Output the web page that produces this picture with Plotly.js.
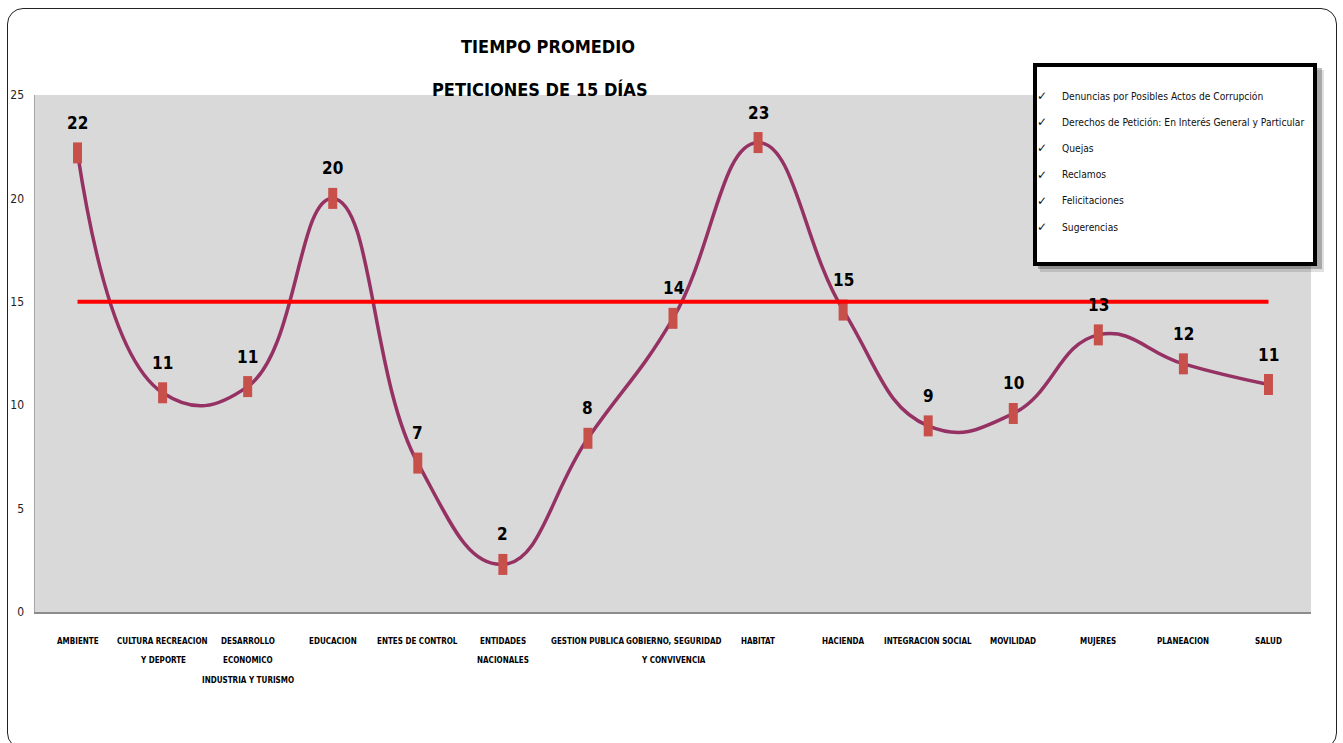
<!DOCTYPE html>
<html>
<head>
<meta charset="utf-8">
<script src="https://cdn.plot.ly/plotly-3.0.1.min.js"></script>
<style>
  body { margin: 0; background: #fff; }
  #chart { position: absolute; left: 0; top: 0; width: 1343px; height: 743px; }
  #frame {
    position: absolute; left: 7px; top: 8px; width: 1330px; height: 741px;
    border: 1.5px solid #222; border-radius: 16px; box-sizing: border-box;
    pointer-events: none;
  }
</style>
</head>
<body>
<div id="chart"></div>
<div id="frame"></div>
<script>
// Average response time (days) per sector, against the 15-day target
const categories = [
  'AMBIENTE', 'CULTURA RECREACION Y DEPORTE', 'DESARROLLO ECONOMICO INDUSTRIA Y TURISMO',
  'EDUCACION', 'ENTES DE CONTROL', 'ENTIDADES NACIONALES', 'GESTION PUBLICA',
  'GOBIERNO, SEGURIDAD Y CONVIVENCIA', 'HABITAT', 'HACIENDA', 'INTEGRACION SOCIAL',
  'MOVILIDAD', 'MUJERES', 'PLANEACION', 'SALUD'
];
const tickLabels = [
  ['AMBIENTE'], ['CULTURA RECREACION', 'Y DEPORTE'], ['DESARROLLO', 'ECONOMICO', 'INDUSTRIA Y TURISMO'],
  ['EDUCACION'], ['ENTES DE CONTROL'], ['ENTIDADES', 'NACIONALES'], ['GESTION PUBLICA'],
  ['GOBIERNO, SEGURIDAD', 'Y CONVIVENCIA'], ['HABITAT'], ['HACIENDA'], ['INTEGRACION SOCIAL'],
  ['MOVILIDAD'], ['MUJERES'], ['PLANEACION'], ['SALUD']
];
const avgDays = [22.2, 10.6, 10.9, 20.0, 7.2, 2.3, 8.4, 14.2, 22.7, 14.6, 9.0, 9.6, 13.4, 12.0, 11.0];
const targetDays = 15;
const yTicks = [0, 5, 10, 15, 20, 25];
const titleLines = ['TIEMPO PROMEDIO', 'PETICIONES DE 15 DÍAS'];
const requestTypes = [
  'Denuncias por Posibles Actos de Corrupción',
  'Derechos de Petición: En Interés General y Particular',
  'Quejas',
  'Reclamos',
  'Felicitaciones',
  'Sugerencias'
];

const FONT = '"Liberation Sans Narrow", "Arial Narrow", "DejaVu Sans Condensed", sans-serif';

// plot area in pixels: left 35, right 1311, top 95, bottom 612
const M = { l: 35, r: 32, t: 95, b: 131 };
const W = 1343, H = 743;
const plotW = W - M.l - M.r, plotH = H - M.t - M.b;
const px = v => (v - M.l) / plotW;
const py = v => (H - M.b - v) / plotH;

const traces = [
  {
    type: 'scatter', mode: 'lines+markers',
    x: categories, y: avgDays,
    line: { color: '#953163', width: 3.5, shape: 'spline', smoothing: 1.3 },
    marker: { symbol: 'line-ns', size: 15, line: { width: 9, color: '#c8504b' } },
    hoverinfo: 'skip', showlegend: false
  },
  {
    type: 'scatter', mode: 'lines',
    x: categories, y: categories.map(() => targetDays),
    line: { color: '#ff0000', width: 4 },
    hoverinfo: 'skip', showlegend: false
  }
];

const annotations = [];

// value labels above each point
categories.forEach((c, i) => {
  annotations.push({
    x: c, y: avgDays[i], xref: 'x', yref: 'y', yshift: 30,
    text: String(Math.round(avgDays[i])), showarrow: false,
    font: { family: FONT, size: 17, color: '#000', weight: 700 }
  });
});

// category labels, one row per line
categories.forEach((c, i) => {
  tickLabels[i].forEach((line, k) => {
    annotations.push({
      x: c, y: 0, xref: 'x', yref: 'paper', yanchor: 'middle',
      yshift: -29 - k * 19.5,
      text: line, showarrow: false,
      font: { family: FONT, size: 8, color: '#000', weight: 700 }
    });
  });
});

// title (second line)
annotations.push({
  x: px(540), y: py(90), xref: 'paper', yref: 'paper', yanchor: 'middle',
  text: titleLines[1], showarrow: false,
  font: { family: FONT, size: 18, color: '#000', weight: 700 }
});

// request type box
requestTypes.forEach((t, k) => {
  const yy = py(96 + k * 26.2);
  annotations.push({
    x: px(1049), y: yy, xref: 'paper', yref: 'paper', yanchor: 'middle',
    text: '✓', showarrow: false,
    font: { family: 'DejaVu Sans', size: 12, color: '#111' }
  });
  annotations.push({
    x: px(1060), y: yy, xref: 'paper', yref: 'paper', xanchor: 'left', yanchor: 'middle',
    text: t, showarrow: false,
    font: { family: FONT, size: 10.2, color: '#111' }
  });
});

const shapes = [
  // soft shadow
  { type: 'rect', xref: 'paper', yref: 'paper', layer: 'above',
    x0: px(1040), x1: px(1324), y0: py(272), y1: py(70),
    fillcolor: 'rgba(0,0,0,0.12)', line: { width: 0 } },
  { type: 'rect', xref: 'paper', yref: 'paper', layer: 'above',
    x0: px(1038), x1: px(1322), y0: py(269), y1: py(68),
    fillcolor: 'rgba(0,0,0,0.25)', line: { width: 0 } },
  // box
  { type: 'rect', xref: 'paper', yref: 'paper', layer: 'above',
    x0: px(1035), x1: px(1315), y0: py(264), y1: py(65),
    fillcolor: '#ffffff', line: { color: '#000', width: 4 } }
];

const layout = {
  width: W, height: H,
  margin: M,
  paper_bgcolor: 'rgba(0,0,0,0)',
  plot_bgcolor: '#d9d9d9',
  font: { family: FONT, color: '#000' },
  title: {
    text: titleLines[0],
    x: 540 / W, xanchor: 'center', xref: 'paper',
    y: 1 - 47 / H, yanchor: 'middle', yref: 'container',
    font: { family: FONT, size: 18, color: '#000', weight: 700 }
  },
  xaxis: {
    type: 'category', range: [-0.5, categories.length - 0.5],
    showticklabels: false, showgrid: false, zeroline: false,
    showline: true, linecolor: '#8c8c8c', linewidth: 2, ticks: ''
  },
  yaxis: {
    range: [0, 25], tickvals: yTicks, ticktext: yTicks.map(String),
    showgrid: false, zeroline: false,
    showline: true, linecolor: '#a6a6a6', linewidth: 1.5, ticks: '',
    ticklabelstandoff: 7,
    tickfont: { family: FONT, size: 12, color: '#222' }
  },
  annotations: annotations,
  shapes: shapes,
  showlegend: false
};

Plotly.newPlot('chart', traces, layout, { displayModeBar: false, staticPlot: true });
</script>
</body>
</html>
